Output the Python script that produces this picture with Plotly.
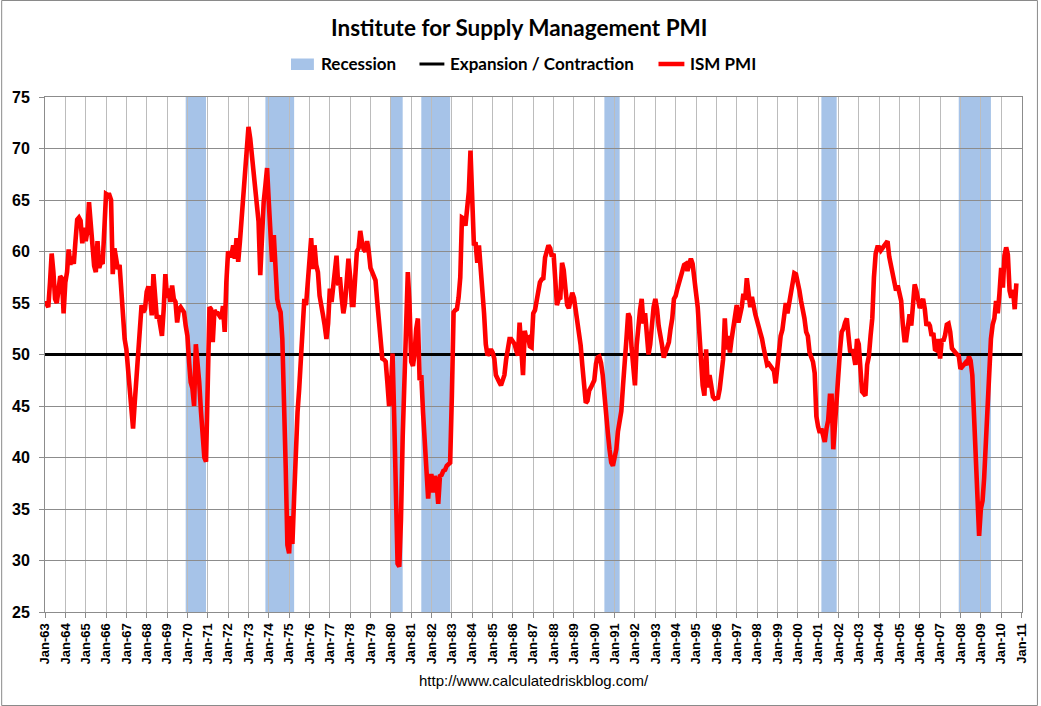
import pandas as pd
import plotly.graph_objects as go

# ---------------- data (monthly ISM PMI) ----------------
pmi_1963_1969 = [
    55.2, 54.9, 54.6, 57.0, 59.8, 58.0, 55.4, 55.0, 56.4, 57.6, 57.4, 54.0,
    57.0, 58.0, 60.2, 58.7, 59.5, 58.8, 61.0, 63.1, 63.3, 63.0, 60.8, 62.3,
    61.0, 62.0, 64.8, 62.3, 61.5, 58.6, 58.0, 61.0, 58.4, 59.0, 58.8, 62.0,
    65.6, 65.5, 65.5, 65.0, 57.8, 60.3, 59.5, 58.3, 58.7, 55.7, 53.5, 51.5,
    50.5, 48.3, 46.0, 44.1, 42.8, 45.4, 48.0, 51.2, 53.8, 54.8, 54.1, 54.4,
    56.1, 56.6, 55.7, 53.8, 57.8, 55.7, 53.5, 53.8, 52.8, 51.8, 54.4, 57.8,
    55.5, 56.4, 55.1, 56.7, 55.4, 55.1, 53.1, 54.4, 54.6, 54.4, 54.1, 52.8,
]
pmi_1970_1979 = [
    51.8, 49.2, 47.3, 46.7, 45.0, 51.0, 49.6, 47.3, 44.5, 42.4, 40.0, 39.6,
    47.0, 54.6, 54.4, 51.2, 54.3, 54.0, 54.0, 53.8, 53.5, 54.7, 52.2, 57.0,
    60.0, 59.6, 59.6, 60.6, 59.3, 61.3, 59.0, 61.0, 63.0, 65.2, 67.5, 70.1,
    72.1, 71.0, 69.4, 68.7, 66.8, 64.8, 62.9, 57.7, 62.9, 64.8, 66.4, 68.1,
    64.8, 61.2, 59.0, 61.6, 58.3, 55.4, 54.6, 54.1, 51.5, 46.5, 39.0, 31.5,
    30.7, 34.3, 31.6, 36.2, 40.8, 44.4, 46.7, 49.6, 54.1, 55.4, 54.8, 57.0,
    60.0, 61.3, 58.3, 60.6, 58.7, 58.0, 55.7, 54.4, 53.8, 52.8, 51.5, 53.0,
    56.4, 55.1, 56.7, 58.3, 59.6, 56.7, 57.5, 55.5, 54.0, 55.0, 56.8, 59.3,
    57.5, 54.8, 54.8, 57.2, 60.0, 60.3, 62.0, 60.9, 60.2, 60.0, 61.0, 60.0,
    58.4, 58.0, 57.7, 57.2, 55.2, 53.2, 51.2, 49.6, 49.5, 49.3, 47.2, 45.0,
]
pmi_1980_1989 = [
    46.5, 50.1, 44.0, 35.5, 29.7, 29.4, 34.0, 42.0, 47.5, 53.5, 58.0, 55.0,
    49.3, 48.9, 50.0, 52.5, 53.5, 47.5, 48.0, 44.4, 41.1, 37.9, 36.0, 38.2,
    38.2, 36.6, 38.2, 37.6, 35.5, 38.2, 38.3, 38.7, 38.8, 39.2, 39.3, 39.5,
    46.0, 54.1, 54.3, 54.4, 55.5, 57.5, 63.3, 63.2, 62.5, 64.8, 65.8, 69.8,
    64.8, 60.6, 60.9, 58.9, 60.6, 58.3, 57.5, 54.0, 51.0, 49.9, 50.2, 50.5,
    50.2, 49.6, 48.0, 47.5, 47.3, 47.0, 47.6, 48.0, 49.5, 50.6, 51.5, 51.5,
    51.2, 51.0, 50.4, 49.9, 53.1, 50.5, 48.0, 52.3, 51.5, 51.6, 50.8, 50.7,
    54.0, 54.3, 55.2, 56.2, 57.0, 57.3, 57.4, 59.4, 60.0, 60.6, 60.3, 59.5,
    59.8, 57.0, 54.8, 55.4, 55.5, 58.9, 58.2, 56.4, 54.8, 54.5, 55.2, 56.0,
    55.5, 54.3, 53.6, 52.0, 50.9, 48.9, 46.6, 45.3, 45.5, 46.5, 46.8, 47.1,
]
pmi_1990_1999 = [
    47.5, 49.1, 49.7, 49.8, 49.2, 48.0, 45.8, 44.0, 42.4, 40.8, 39.5, 39.2,
    40.0, 40.8, 42.5, 43.5, 44.5, 47.0, 50.0, 51.5, 54.0, 53.6, 50.7, 48.3,
    47.0, 50.9, 53.1, 54.3, 55.4, 53.0, 54.0, 51.6, 50.0, 51.0, 53.3, 54.6,
    55.4, 54.4, 52.8, 51.4, 50.9, 49.7, 50.2, 50.5, 51.2, 52.5, 53.5, 55.4,
    55.7, 56.4, 56.9, 57.4, 58.0, 58.7, 58.8, 58.1, 58.8, 59.3, 58.8, 56.8,
    56.0, 54.6, 51.6, 50.5, 47.0, 46.0, 50.5, 46.8, 48.0, 47.0, 45.9, 45.7,
    45.7, 45.8, 46.6, 48.5, 49.5, 53.5, 50.5, 51.8, 50.2, 51.5, 52.6, 54.4,
    54.8, 53.1, 53.7, 54.6, 55.9, 55.3, 57.4, 56.2, 54.6, 55.6, 54.3, 53.9,
    53.3, 52.7, 52.4, 51.5, 50.6, 49.5, 49.0, 49.1, 48.8, 48.6, 48.4, 47.2,
    48.6, 50.8, 51.8, 52.4, 53.6, 55.0, 54.0, 55.0, 56.4, 57.4, 57.9, 57.8,
]
pmi_2000_2009 = [
    57.1, 56.2, 55.2, 54.4, 53.5, 52.2, 51.8, 50.2, 49.6, 49.3, 48.2, 44.0,
    43.0, 42.4, 42.8, 42.0, 41.5, 42.8, 43.6, 46.0, 46.0, 40.8, 43.7, 45.4,
    48.0, 50.6, 52.2, 52.5, 53.1, 53.5, 51.8, 50.2, 50.5, 50.0, 49.0, 51.5,
    51.0, 48.0, 46.4, 46.2, 46.0, 49.0, 49.8, 51.8, 53.5, 57.5, 59.8, 60.4,
    60.4, 60.1, 60.3, 60.5, 60.8, 61.0, 59.5, 58.7, 57.9, 56.9, 56.2, 56.7,
    56.0, 55.2, 53.0, 51.4, 51.4, 53.0, 53.9, 52.8, 55.6, 56.8, 56.2, 55.3,
    54.5, 55.0, 55.4, 54.4, 52.8, 53.1, 52.8, 51.8, 52.1, 50.5, 50.4, 51.5,
    49.6, 51.5, 51.3, 51.9, 52.9, 53.0, 52.2, 50.6, 50.3, 50.2, 50.0, 49.9,
    48.6, 48.9, 49.0, 49.2, 49.0, 49.8, 49.4, 48.0, 43.5, 38.9, 36.2, 32.4,
    35.0, 35.8, 38.0, 42.0, 45.5, 49.0, 51.5, 52.9, 53.5, 55.2, 54.0, 55.9,
]
pmi_2010 = [58.4, 56.5, 59.6, 60.4, 59.7, 56.2, 55.5, 56.3, 54.4, 56.9]

first_month = "1963-01-01"
expansion_threshold = 50

recession_start = ["1969-12", "1973-11", "1980-01", "1981-07", "1990-07", "2001-03", "2007-12"]
recession_end = ["1970-11", "1975-03", "1980-07", "1982-11", "1991-03", "2001-11", "2009-06"]

y_min, y_max, y_step = 25, 75, 5
x_axis_start, x_axis_end = "1963-01-01", "2011-01-10"

title_text = "Institute for Supply Management PMI"
legend_names = ["Recession", "Expansion / Contraction", "ISM PMI"]
source_text = "http://www.calculatedriskblog.com/"

# ---------------- build ----------------
pmi = pmi_1963_1969 + pmi_1970_1979 + pmi_1980_1989 + pmi_1990_1999 + pmi_2000_2009 + pmi_2010
months = pd.date_range(first_month, periods=len(pmi), freq="MS")

W, H = 1041, 706
L, R, T, B = 44, 16, 97, 94
PW, PH = W - L - R, H - T - B


def px(x):
    return (x - L) / PW


def py(y):
    return (H - B - y) / PH


REC_COLOR = "rgb(166,195,232)"
RED = "#ff0000"
GRID_H = "#8c8c8c"
GRID_V = "#bcbcbc"
BOLD_FONT = "Liberation Sans, Arial, sans-serif"
TITLE_FONT = "Lato, Carlito, Calibri, sans-serif"

fig = go.Figure()

# Expansion / Contraction line (threshold across the full axis)
fig.add_trace(go.Scatter(
    x=[pd.Timestamp(x_axis_start), pd.Timestamp(x_axis_end)],
    y=[expansion_threshold, expansion_threshold],
    mode="lines", line=dict(color="black", width=3),
    name=legend_names[1], showlegend=False, hoverinfo="skip",
))

# ISM PMI
fig.add_trace(go.Scatter(
    x=months, y=pmi, mode="lines",
    line=dict(color=RED, width=4.6),
    name=legend_names[2], showlegend=False,
))

shapes = []
for s, e in zip(recession_start, recession_end):
    x0 = pd.Timestamp(s + "-01")
    x1 = pd.Timestamp(e + "-01") + pd.DateOffset(months=1)
    shapes.append(dict(type="rect", xref="x", yref="y", x0=x0, x1=x1,
                       y0=y_min, y1=y_max, fillcolor=REC_COLOR,
                       line=dict(width=0), layer="below"))

# manual legend
legend_y = 64
shapes.append(dict(type="rect", xref="paper", yref="paper",
                   x0=px(291), x1=px(314), y0=py(70), y1=py(58.5),
                   fillcolor=REC_COLOR, line=dict(width=0)))
shapes.append(dict(type="line", xref="paper", yref="paper",
                   x0=px(420), x1=px(445), y0=py(legend_y), y1=py(legend_y),
                   line=dict(color="black", width=3)))
shapes.append(dict(type="line", xref="paper", yref="paper",
                   x0=px(660), x1=px(686), y0=py(legend_y), y1=py(legend_y),
                   line=dict(color=RED, width=4.5)))

# outer frame of the picture
shapes.append(dict(type="rect", xref="paper", yref="paper",
                   x0=px(0.5), x1=px(W - 0.5), y0=py(H - 0.5), y1=py(0.5),
                   line=dict(color="#8a8a8a", width=1), fillcolor="rgba(0,0,0,0)"))

annotations = [
    dict(text=title_text, xref="paper", yref="paper", x=px(520.5), y=py(28),
         xanchor="center", yanchor="middle", showarrow=False,
         font=dict(family=TITLE_FONT, size=22.5, color="black", weight="bold")),
    dict(text=source_text, xref="paper", yref="paper", x=px(534.5), y=py(680),
         xanchor="center", yanchor="middle", showarrow=False,
         font=dict(family="Liberation Sans, Arial, sans-serif", size=15, color="black")),
]
for name, xl in zip(legend_names, [319, 449, 690]):
    annotations.append(dict(text=name, xref="paper", yref="paper", x=px(xl), y=py(legend_y),
                            xanchor="left", yanchor="middle", showarrow=False,
                            font=dict(family=TITLE_FONT, size=17, color="black", weight="bold")))

fig.update_layout(
    width=W, height=H,
    margin=dict(l=L, r=R, t=T, b=B, pad=0),
    paper_bgcolor="white", plot_bgcolor="white",
    showlegend=False,
    shapes=shapes, annotations=annotations,
    xaxis=dict(
        type="date", range=[x_axis_start, x_axis_end],
        tick0="1963-01-01", dtick="M12", tickformat="%b-%y", tickangle=-90,
        ticks="outside", ticklen=5, tickcolor=GRID_H, tickwidth=1,
        showgrid=True, gridcolor=GRID_V, gridwidth=1,
        showline=True, linecolor=GRID_H, linewidth=1, mirror=True,
        tickfont=dict(family=BOLD_FONT, size=13, color="black", weight="bold"),
        zeroline=False,
    ),
    yaxis=dict(
        range=[y_min, y_max], tick0=y_min, dtick=y_step,
        ticks="outside", ticklen=5, tickcolor=GRID_H, tickwidth=1,
        showgrid=True, gridcolor=GRID_H, gridwidth=1,
        showline=True, linecolor=GRID_H, linewidth=1, mirror=True,
        tickfont=dict(family=BOLD_FONT, size=16, color="black", weight="bold"),
        ticklabelstandoff=6,
        zeroline=False,
    ),
)

fig.write_html("out.html", config={"displayModeBar": False},
               post_script="document.body.style.margin='0';document.body.style.overflow='hidden';")
